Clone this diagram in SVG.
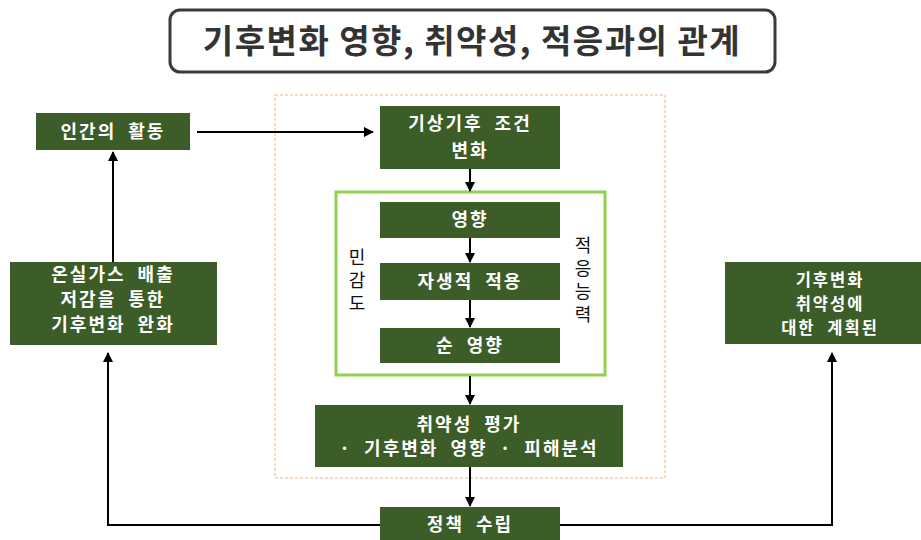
<svg xmlns="http://www.w3.org/2000/svg" width="921" height="540" viewBox="0 0 921 540">
<defs>
<style>
.box{fill:#3C5C28;}
.t{font-family:"Noto Sans CJK KR","Noto Sans",sans-serif;font-weight:bold;font-size:18px;fill:#ffffff;text-anchor:middle;letter-spacing:2px;word-spacing:6px;}
.s{font-size:16.5px;}
.v{font-family:"Noto Sans CJK KR","Noto Sans",sans-serif;font-size:18px;fill:#111111;writing-mode:vertical-rl;letter-spacing:5px;}
.ln{fill:none;stroke:#000;stroke-width:2;}
</style>
<marker id="ah" viewBox="0 0 10 10" refX="9" refY="5" markerWidth="5" markerHeight="5" orient="auto" markerUnits="strokeWidth">
<path d="M0,0 L10,5 L0,10 z" fill="#000"/>
</marker>
<clipPath id="clipAd"><rect x="725" y="262" width="210" height="82"/></clipPath>
</defs>
<rect width="921" height="540" fill="#fff"/>
<g id="title">
<rect x="170" y="10" width="605" height="62" rx="10" fill="#fff" stroke="#3a3a3a" stroke-width="3"/>
<text x="472" y="53" style="font-family:'Noto Sans CJK KR',sans-serif;font-weight:bold;font-size:33px;fill:#333;text-anchor:middle;letter-spacing:1.5px;">기후변화 영향, 취약성, 적응과의 관계</text>
</g>
<g id="frame">
<rect x="275" y="95" width="390" height="383" fill="none" stroke="#F4B183" stroke-width="1" stroke-dasharray="3,2"/>
</g>
<g id="sensitivity-frame">
<rect x="336" y="192" width="269" height="183" fill="none" stroke="#92D050" stroke-width="3"/>
<text class="v" x="357" y="248">민감도</text>
<text class="v" x="583" y="236">적응능력</text>
</g>
<g id="human">
<rect class="box" x="36" y="113" width="154" height="37"/>
<text class="t" x="113" y="138">인간의 활동</text>
</g>
<g id="climate-change">
<rect class="box" x="380" y="106" width="180" height="63"/>
<text class="t" x="470" y="130">기상기후 조건</text>
<text class="t" x="470" y="157">변화</text>
</g>
<g id="impact">
<rect class="box" x="380" y="202" width="180" height="36"/>
<text class="t" x="470" y="226">영향</text>
</g>
<g id="autonomous">
<rect class="box" x="380" y="263" width="180" height="37"/>
<text class="t" x="470" y="288">자생적 적용</text>
</g>
<g id="net-impact">
<rect class="box" x="380" y="328" width="180" height="35"/>
<text class="t" x="470" y="352">순 영향</text>
</g>
<g id="vulnerability">
<rect class="box" x="315" y="405" width="308" height="62"/>
<text class="t" x="469" y="431">취약성 평가</text>
<text class="t" x="469" y="455">· 기후변화 영향 · 피해분석</text>
</g>
<g id="policy">
<rect class="box" x="380" y="507" width="180" height="40"/>
<text class="t" x="470" y="531">정책 수립</text>
</g>
<g id="mitigation">
<rect class="box" x="10" y="262" width="207" height="83"/>
<text class="t" x="113" y="281"><tspan x="113" y="281">온실가스 배출</tspan><tspan x="113" y="306">저감을 통한</tspan><tspan x="113" y="331">기후변화 완화</tspan></text>
</g>
<g id="adaptation">
<rect class="box" x="725" y="262" width="210" height="82"/>
<text class="t s" x="830" y="286" clip-path="url(#clipAd)"><tspan x="830" y="286">기후변화</tspan><tspan x="830" y="310">취약성에</tspan><tspan x="830" y="334">대한 계획된</tspan><tspan x="830" y="359">적응</tspan></text>
</g>
<g id="connectors">
<line class="ln" x1="197" y1="132" x2="373" y2="132" marker-end="url(#ah)"/>
<line class="ln" x1="113" y1="262" x2="113" y2="152" marker-end="url(#ah)"/>
<line class="ln" x1="470" y1="169" x2="470" y2="191" marker-end="url(#ah)"/>
<line class="ln" x1="470" y1="238" x2="470" y2="262" marker-end="url(#ah)"/>
<line class="ln" x1="470" y1="300" x2="470" y2="327" marker-end="url(#ah)"/>
<line class="ln" x1="470" y1="376" x2="470" y2="404" marker-end="url(#ah)"/>
<line class="ln" x1="470" y1="467" x2="470" y2="506" marker-end="url(#ah)"/>
<polyline class="ln" points="380,525 108,525 108,353" marker-end="url(#ah)"/>
<polyline class="ln" points="560,525 832,525 832,353" marker-end="url(#ah)"/>
</g>
</svg>
